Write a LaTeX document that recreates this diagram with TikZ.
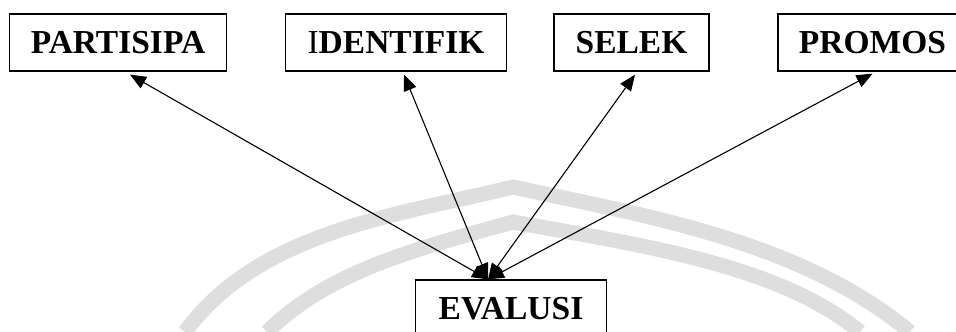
\documentclass[tikz,border=0pt]{standalone}
\usepackage{fontspec}
\setmainfont{Liberation Serif}
\usetikzlibrary{arrows.meta}
\begin{document}
\begin{tikzpicture}[x=1pt,y=-1pt,
    kotak/.style={draw,line width=1.3pt,inner sep=0pt,minimum height=57pt,
      font=\fontsize{33.5}{38}\selectfont\bfseries},
    panah/.style={line width=1.1pt,
      {Triangle[length=16pt,width=13pt]}-{Triangle[length=16pt,width=13pt]}},
    tanda/.style={line width=15pt,black!13,line join=miter}]
      \useasboundingbox (0,0) rectangle (956,332);
      \clip (0,0) rectangle (956,332);
      % watermark
      \draw[tanda] (185,332) .. controls (260,230) and (400,215) .. (513,187)
        .. controls (640,215) and (800,240) .. (910,332);
      \draw[tanda] (267,332) .. controls (330,270) and (420,248) .. (513,222)
        .. controls (640,245) and (780,265) .. (860,332);
      \draw
        (118,42.5) node[kotak,minimum width=217pt] (p){PARTISIPA}
        (396,42.5) node[kotak,minimum width=221pt] (i){{\mdseries I}DENTIFIK}
        (631.5,42.5) node[kotak,minimum width=155pt] (s){SELEK}
        (872.5,42.5) node[kotak,minimum width=189pt] (r){PROMOS}
        (511,308.5) node[kotak,minimum width=191pt] (e){EVALUSI};
      \begin{scope}[panah]
        \draw ([xshift=-23pt]e.north) to ([xshift=12pt,yshift=-3pt]p.south);
        \draw ([xshift=-23pt]e.north) to ([xshift=8pt,yshift=-3pt]i.south);
        \draw ([xshift=-23pt]e.north) to ([xshift=3.5pt,yshift=-3pt]s.south);
        \draw ([xshift=-23pt]e.north) to ([yshift=-2pt]r.south);
      \end{scope}
    \end{tikzpicture}
\end{document}
